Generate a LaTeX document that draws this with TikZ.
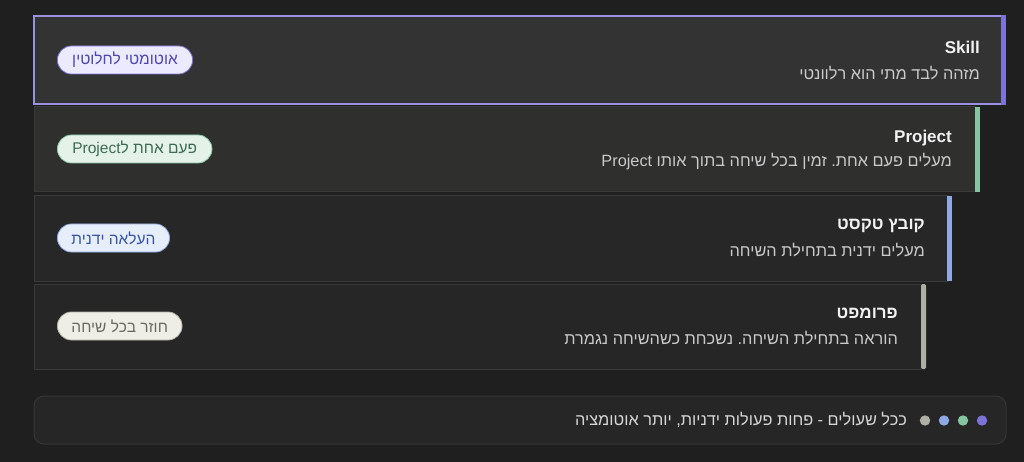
\documentclass[tikz,border=0pt]{standalone}
\usepackage{fontspec}
\setmainfont{Liberation Sans}
\newfontfamily\hebfont[Script=Hebrew]{Liberation Sans}
\TeXXeTstate=1
\frenchspacing
\usetikzlibrary{shapes.misc}

\definecolor{bgdark}{HTML}{1F1F1F}
\definecolor{cardline}{HTML}{3A3A3A}
\definecolor{titlewhite}{HTML}{F2F2F2}
\definecolor{subgrey}{HTML}{C9C9C9}
\definecolor{skillbar}{HTML}{7C73D6}
\definecolor{skillline}{HTML}{9893E0}
\definecolor{projbar}{HTML}{86C4A2}
\definecolor{filebar}{HTML}{90A8E2}
\definecolor{promptbar}{HTML}{B0AFA6}

\tikzset{
  card/.style={draw=cardline, line width=1pt},
  title/.style={anchor=east, inner sep=0pt, text=titlewhite, font=\hebfont\bfseries\fontsize{17}{20}\selectfont},
  subtitle/.style={anchor=east, inner sep=0pt, text=subgrey, font=\hebfont\fontsize{16.3}{19}\selectfont},
  pill/.style={rounded rectangle, anchor=west, draw=#1, line width=0.8pt, minimum height=28pt, inner xsep=12.5pt, font=\hebfont\fontsize{15.5}{18}\selectfont}
}

\begin{document}
\begin{tikzpicture}[x=1pt, y=-1pt]
\useasboundingbox (0,0) rectangle (1024,462);
\fill[bgdark] (0,0) rectangle (1024,462);

% Skill
\filldraw[card, fill={rgb,255:red,51;green,51;blue,51}, draw=skillline, line width=2pt] (34,16) rectangle (1002,104);
\fill[skillbar] (1001,15) rectangle (1006,105);
\node[title] (skilltitle) at (980,47) {Skill};
\node[subtitle] (skillsub) at (980,73) {\beginR מזהה לבד מתי הוא רלוונטי\endR};
\node[pill=skillbar, fill={rgb,255:red,236;green,234;blue,255}, text={rgb,255:red,79;green,70;blue,176}] (skillpill) at (57,60) {\beginR אוטומטי לחלוטין\endR};

% Project
\filldraw[card, fill={rgb,255:red,47;green,47;blue,46}] (34,107) rectangle (975,192);
\fill[projbar] (975,107) rectangle (980,192);
\node[title] (projtitle) at (952,138) {Project};
\node[subtitle] (projsub) at (952,162) {\beginR מעלים פעם אחת. זמין בכל שיחה בתוך אותו \beginL Project\endL\endR};
\node[pill=projbar, fill={rgb,255:red,228;green,242;blue,234}, text={rgb,255:red,63;green,107;blue,83}] (projpill) at (57,149) {\beginR פעם אחת ל\beginL Project\endL\endR};

% text file
\filldraw[card, fill={rgb,255:red,39;green,39;blue,39}] (34,196) rectangle (948,281);
\fill[filebar] (947,196) rectangle (952,281);
\node[title] (filetitle) at (925,226) {\beginR קובץ טקסט\endR};
\node[subtitle] (filesub) at (925,250) {\beginR מעלים ידנית בתחילת השיחה\endR};
\node[pill=filebar, fill={rgb,255:red,230;green,237;blue,251}, text={rgb,255:red,58;green,86;blue,160}] (filepill) at (57,238) {\beginR העלאה ידנית\endR};

% prompt
\filldraw[card, fill={rgb,255:red,38;green,38;blue,38}] (34,284) rectangle (921,369);
\fill[promptbar, rounded corners=1.5pt] (921,284) rectangle (926,369);
\node[title] (prompttitle) at (898,313) {\beginR פרומפט\endR};
\node[subtitle] (promptsub) at (898,338) {\beginR הוראה בתחילת השיחה. נשכחת כשהשיחה נגמרת\endR};
\node[pill=promptbar, fill={rgb,255:red,238;green,237;blue,230}, text={rgb,255:red,106;green,105;blue,98}] (promptpill) at (57,326) {\beginR חוזר בכל שיחה\endR};

% legend
\filldraw[fill={rgb,255:red,38;green,38;blue,38}, draw={rgb,255:red,54;green,54;blue,54}, line width=1pt, rounded corners=10pt] (34,396) rectangle (1006,444);
\foreach \x/\c in {982/skillbar, 963/projbar, 944/filebar, 925/promptbar}
  \fill[\c] (\x,420.5) circle (5.2pt);
\node[subtitle, text={rgb,255:red,214;green,214;blue,214}] (legendtext) at (907,420) {\beginR ככל שעולים - פחות פעולות ידניות, יותר אוטומציה\endR};
\end{tikzpicture}
\end{document}
